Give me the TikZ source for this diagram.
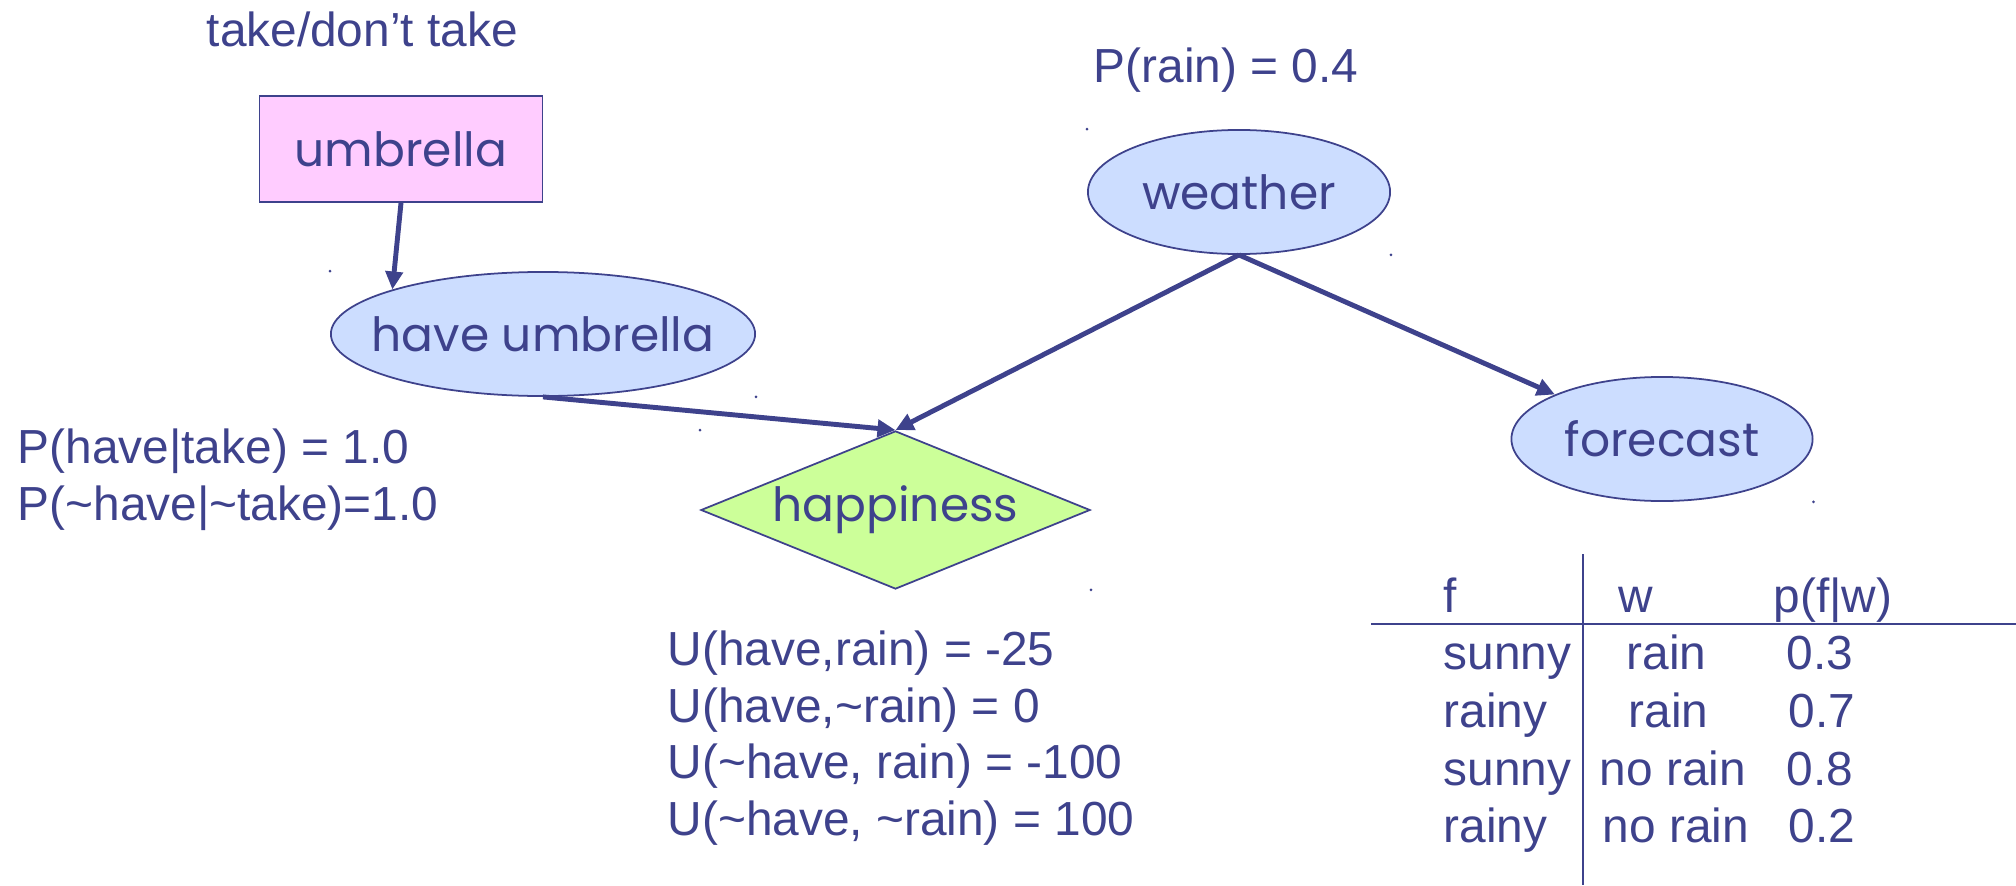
\documentclass[tikz,border=0pt]{standalone}
\usepackage{fontspec}
\setmainfont{Liberation Sans}
\newfontfamily\comicfont{Poppins}
\usepackage{xcolor}
\usepackage{tikz}
\usetikzlibrary{shapes.geometric,arrows.meta,positioning,calc}
\definecolor{navy}{RGB}{62,66,140}
\definecolor{chancefill}{RGB}{204,221,255}
\definecolor{decfill}{RGB}{255,204,255}
\definecolor{utilfill}{RGB}{204,255,153}

\begin{document}
\begin{tikzpicture}[x=0.01cm, y=-0.01cm,
    every node/.style={text=navy},
    txt/.style={anchor=base west, inner sep=0pt, font=\fontsize{13.6}{16}\selectfont},
    shapetxt/.style={font=\comicfont\fontsize{13.4}{16}\selectfont},
    decision/.style={rectangle, draw=navy, line width=0.5pt, fill=decfill, minimum width=2.83cm, minimum height=1.06cm, inner sep=0pt, shapetxt},
    chance/.style={ellipse, draw=navy, line width=0.5pt, fill=chancefill, minimum height=1.24cm, inner sep=0pt, label={[shapetxt]center:#1}},
    utility/.style={diamond, draw=navy, line width=0.5pt, fill=utilfill, aspect=2.46, minimum width=3.89cm, minimum height=1.58cm, inner sep=0pt, label={[shapetxt]center:#1}},
    link/.style={navy, line width=1.4pt, -{Triangle[length=0.18cm,width=0.17cm]}}]
    \useasboundingbox (0,0) rectangle (2016,885);

    % decision and chance nodes
    \node[decision] (umb) at (401,149) {umbrella};
    \node[chance={have umbrella}, minimum width=4.24cm] (haveumb) at (543,334) {};
    \node[chance=weather, minimum width=3.02cm] (weather) at (1239,192) {};
    \node[chance=forecast, minimum width=3.01cm] (forecast) at (1662,439) {};
    \node[utility=happiness] (happy) at (895.5,510) {};

    \draw[link] (umb.south) -- (haveumb.north west);
    \draw[link] (haveumb.south) -- (happy.north);
    \draw[link] (weather.south) -- (happy.north);
    \draw[link] (weather.south) -- (forecast.north west);

    % selection handles
    \foreach \n in {haveumb, weather, happy} {
        \fill[navy] (\n.west |- \n.north) circle (1.5);
        \fill[navy] (\n.east |- \n.south) circle (1.5);
    }
    \fill[navy] (forecast.east |- forecast.south) circle (1.5);

    % annotations
    \node[txt] (takelbl) at (206,47) {take/don’t take};
    \node[txt] (rainlbl) at (1093,83) {P(rain) = 0.4};
    \foreach \y/\t [count=\i] in {463/{P(have|take) = 1.0}, 520/{P(\textasciitilde have|\textasciitilde take)=1.0}}
        \node[txt] (cpt\i) at (17,\y) {\t};
    \foreach \y/\t [count=\i] in {665/{U(have,rain) = -25}, 722/{U(have,\textasciitilde rain) = 0}, 778/{U(\textasciitilde have, rain) = -100}, 835/{U(\textasciitilde have, \textasciitilde rain) = 100}}
        \node[txt] (util\i) at (667,\y) {\t};

    % forecast table
    \draw[navy, line width=0.6pt] (1583,554) -- (1583,885);
    \draw[navy, line width=0.6pt] (1371,624) -- (2016,624);
    \node[txt] (hf) at (1443,612) {f};
    \node[txt] (hw) at (1618,612) {w};
    \node[txt] (hp) at (1773,612) {p(f|w)};
    \foreach \y/\f/\xw/\w/\xp/\p [count=\i] in {669/sunny/1626/rain/1786/0.3, 727/rainy/1628/rain/1788/0.7, 785/sunny/1599/no rain/1786/0.8, 842/rainy/1602/no rain/1788/0.2} {
        \node[txt] (f\i) at (1443,\y) {\f};
        \node[txt] (w\i) at (\xw,\y) {\w};
        \node[txt] (p\i) at (\xp,\y) {\p};
    }
\end{tikzpicture}
\end{document}
